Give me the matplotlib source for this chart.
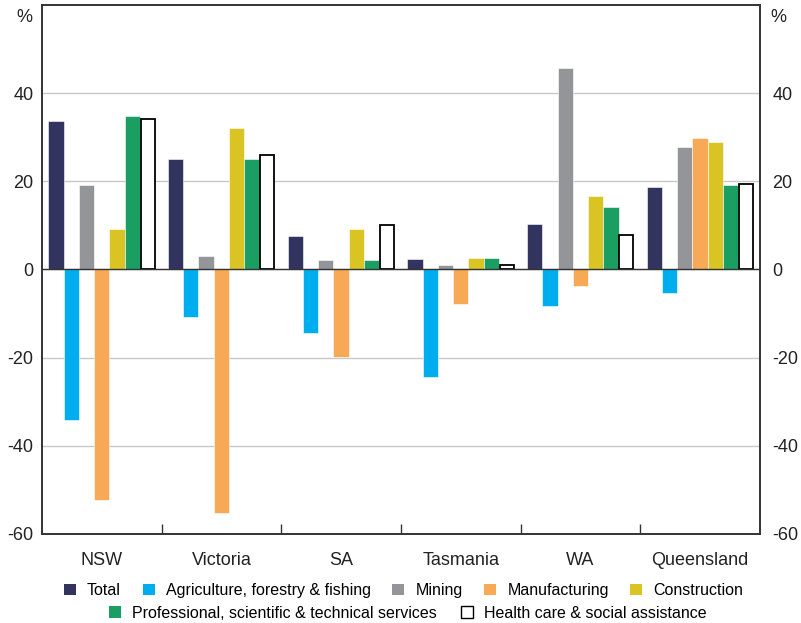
import matplotlib.pyplot as plt
from matplotlib.patches import Patch
import numpy as np

plt.rcParams['font.family'] = ['Liberation Sans', 'DejaVu Sans']
plt.rcParams['axes.unicode_minus'] = False

states = ['NSW', 'Victoria', 'SA', 'Tasmania', 'WA', 'Queensland']
total = [33.6, 25.0, 7.7, 2.3, 10.3, 18.6]
agriculture = [-34.1, -10.7, -14.5, -24.3, -8.3, -5.3]
mining = [19.1, 3.1, 2.15, 1.0, 45.6, 27.8]
manufacturing = [-52.2, -55.2, -19.9, -7.8, -3.7, 29.9]
construction = [9.2, 32.0, 9.2, 2.5, 16.6, 28.9]
professional = [34.9, 25.0, 2.15, 2.5, 14.2, 19.1]
health = [34.2, 26.0, 10.1, 0.95, 7.9, 19.4]

series = [
    ('Total', total, '#33335f'),
    ('Agriculture, forestry & fishing', agriculture, '#00aeef'),
    ('Mining', mining, '#939598'),
    ('Manufacturing', manufacturing, '#f7a955'),
    ('Construction', construction, '#d9c424'),
    ('Professional, scientific & technical services', professional, '#1a9e62'),
    ('Health care & social assistance', health, 'white'),
]

fig = plt.figure(figsize=(8.01, 6.23), dpi=100)
ax = fig.add_axes([0.0524, 0.1429, 0.8964, 0.8491])

x = np.arange(len(states))
w = 0.128
for i, (name, vals, col) in enumerate(series):
    pos = x + (i - 3) * w
    if col == 'white':
        ax.bar(pos, vals, w * 0.92, color='white', edgecolor='black', linewidth=1.3, zorder=3)
    else:
        ax.bar(pos, vals, w, color=col, edgecolor='white', linewidth=0.4, zorder=3)

ax.set_xlim(-0.5, 5.5)
ax.set_ylim(-60, 60)
ax.set_yticks([-60, -40, -20, 0, 20, 40])
ax.grid(axis='y', color='#c8c8c8', linewidth=1, zorder=0)
ax.axhline(0, color='#333333', linewidth=1, zorder=4)

ax.set_xticks(x)
ax.set_xticklabels(states, fontsize=13)
ax.set_xticks(np.arange(0.5, 5.5, 1), minor=True)
ax.tick_params(axis='x', which='major', length=0, pad=13, colors='#222222')
ax.tick_params(axis='x', which='minor', direction='in', length=7, width=1, color='#333333')
ax.tick_params(axis='y', length=0, labelsize=13, pad=6, colors='#222222')

for s in ax.spines.values():
    s.set_color('#333333')
    s.set_linewidth(1.2)

ax2 = ax.twinx()
ax2.set_ylim(-60, 60)
ax2.set_yticks([-60, -40, -20, 0, 20, 40])
ax2.tick_params(axis='y', length=0, labelsize=13, pad=9, colors='#222222')
for s in ax2.spines.values():
    s.set_color('#333333')
    s.set_linewidth(1.2)

ax.text(-0.025, 0.977, '%', transform=ax.transAxes, ha='center', va='center', fontsize=13, color='#222222')
ax.text(1.025, 0.977, '%', transform=ax.transAxes, ha='center', va='center', fontsize=13, color='#222222')

handles = []
for name, vals, col in series:
    if col == 'white':
        handles.append(Patch(facecolor='white', edgecolor='black', linewidth=1, label=name))
    else:
        handles.append(Patch(facecolor=col, edgecolor='none', label=name))

leg_kw = dict(frameon=False, fontsize=11.5, handlelength=0.75, handleheight=0.75,
              handletextpad=0.7, borderaxespad=0)
leg1 = fig.legend(handles=handles[:5], ncol=5, loc='center', bbox_to_anchor=(0.504, 0.052),
                  columnspacing=1.35, **leg_kw)
leg2 = fig.legend(handles=handles[5:], ncol=2, loc='center', bbox_to_anchor=(0.509, 0.016),
                  columnspacing=1.5, **leg_kw)

fig.savefig('out.png', dpi=100)
